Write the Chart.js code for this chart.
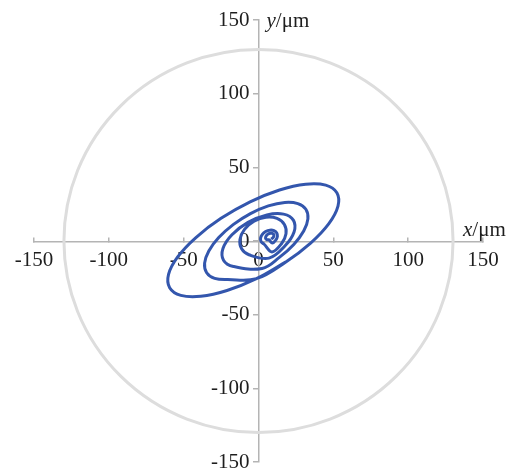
<!DOCTYPE html>
<html>
<head>
<meta charset="utf-8">
<script src="https://cdn.jsdelivr.net/npm/chart.js@4/dist/chart.umd.min.js"></script>
<style>
  html, body { margin: 0; padding: 0; background: #ffffff; }
  #wrap { width: 508px; height: 476px; }
</style>
</head>
<body>
<div id="wrap"><canvas id="orbit" width="508" height="476"></canvas></div>
<script>
// Shaft-centre orbit, displacement in micrometres (inner turns first, outer turn last)
const orbitX = [
  8.5, 9.67, 10.25, 10.1, 9.25, 7.93, 6.5, 5.33, 4.75, 4.9, 5.75, 7.07,
  9.25, 11.55, 12.63, 12.2, 10.37, 7.65, 4.75, 2.45, 1.37, 1.8, 3.63,
  9.0, 15.35, 18.38, 17.29, 12.38, 4.95, -3.0, -9.35, -12.38, -11.29, -6.38,
  7.0, 17.75, 23.75, 23.38, 16.75, 5.63, -7.0, -17.75, -23.75, -23.38, -16.75,
  2.39, 13.93, 23.57, 30.2, 33.01, 31.64, 26.29, 17.58, 6.57, -5.39, -16.93, -26.57, -33.2, -36.01, -34.64, -29.29, -20.58,
  -1.4, 18.04, 34.82, 47.01, 53.11, 52.36, 44.91, 31.57, 14.04, -5.6, -25.04, -41.82, -54.01, -60.11, -59.36, -51.91, -38.57, -21.04, -1.4, 18.04
];
const orbitY = [
  1.27, 2.25, 3.43, 4.5, 5.17, 5.25, 4.73, 3.75, 2.57, 1.5, 0.83, 0.75,
  -1.4, 0.62, 3.15, 5.5, 7.05, 7.38, 6.4, 4.38, 1.85, -0.5, -2.05,
  -7.39, -1.87, 4.94, 11.25, 15.34, 16.13, 13.39, 7.87, 1.06, -5.25, -9.34,
  -11.62, -3.25, 6.13, 14.0, 18.25, 17.75, 12.62, 4.25, -5.13, -13.0, -17.25,
  -18.62, -11.12, -2.31, 6.78, 15.08, 21.53, 25.4, 26.2, 23.85, 18.62, 11.12, 2.31, -6.78, -15.08, -21.53, -25.4, -26.2,
  -25.58, -14.36, -1.37, 11.84, 23.71, 32.75, 37.93, 38.56, 34.63, 26.58, 15.36, 2.37, -10.84, -22.71, -31.75, -36.93, -37.56, -33.63, -25.58, -14.36
];

// Axis range and tick spacing (same for both axes)
const axisMin = -150;
const axisMax = 150;
const tickStep = 50;

// Clearance circle radius, micrometres
const clearanceRadius = 130;

// Axis titles: variable (italic) and unit
const xTitle = ['x', '/\u03bcm'];
const yTitle = ['y', '/\u03bcm'];

const orbitPoints = orbitX.map((v, i) => ({ x: v, y: orbitY[i] }));

const serif = "'Liberation Serif', 'Times New Roman', serif";
const tickFont = { family: serif, size: 21, lineHeight: 1 };
const axisGray = '#b4b4b4';
const textColor = '#1e1e1e';

// Light grey clearance circle around the origin
const clearanceCircle = {
  id: 'clearanceCircle',
  beforeDatasetsDraw(chart) {
    const { ctx, scales: { x, y } } = chart;
    const cx = x.getPixelForValue(0);
    const cy = y.getPixelForValue(0);
    const rx = x.getPixelForValue(clearanceRadius) - cx;
    const ry = cy - y.getPixelForValue(clearanceRadius);
    ctx.save();
    ctx.beginPath();
    ctx.ellipse(cx, cy, rx, ry, 0, 0, Math.PI * 2);
    ctx.strokeStyle = '#dddddd';
    ctx.lineWidth = 3;
    ctx.stroke();
    ctx.restore();
  }
};

// Axis titles with an italic variable name followed by the unit
function drawTitle(ctx, parts, px, py) {
  ctx.textAlign = 'left';
  ctx.textBaseline = 'middle';
  ctx.font = 'italic 21px ' + serif;
  ctx.fillText(parts[0], px, py);
  const w = ctx.measureText(parts[0]).width;
  ctx.font = '21px ' + serif;
  ctx.fillText(parts[1], px + w, py);
}

const axisTitles = {
  id: 'axisTitles',
  afterDraw(chart) {
    const { ctx, scales: { x, y } } = chart;
    ctx.save();
    ctx.fillStyle = textColor;
    drawTitle(ctx, yTitle, x.getPixelForValue(0) + 8, y.getPixelForValue(axisMax) + 1);
    drawTitle(ctx, xTitle, x.getPixelForValue(axisMax) - 20, y.getPixelForValue(0) - 11);
    ctx.restore();
  }
};

new Chart(document.getElementById('orbit'), {
  type: 'scatter',
  data: {
    datasets: [{
      data: orbitPoints,
      showLine: true,
      borderColor: '#3356ad',
      borderWidth: 3,
      pointRadius: 0,
      pointHoverRadius: 0,
      tension: 0.38,
      fill: false
    }]
  },
  options: {
    responsive: false,
    animation: false,
    layout: { padding: { left: 34, right: 25, top: 20, bottom: 14 } },
    plugins: { legend: { display: false }, tooltip: { enabled: false } },
    scales: {
      x: {
        type: 'linear',
        position: 'center',
        min: axisMin,
        max: axisMax,
        ticks: { stepSize: tickStep, autoSkip: false, maxRotation: 0, font: tickFont, color: textColor, padding: 14 },
        grid: { drawOnChartArea: false, drawTicks: true, tickLength: -5, color: axisGray, lineWidth: 1.5 },
        border: { color: axisGray, width: 1.5 },
        afterFit(s) { s.paddingLeft = 0; s.paddingRight = 0; }
      },
      y: {
        type: 'linear',
        position: 'center',
        min: axisMin,
        max: axisMax,
        ticks: { stepSize: tickStep, autoSkip: false, font: tickFont, color: textColor, padding: 4 },
        grid: { drawOnChartArea: false, drawTicks: true, tickLength: 5, color: axisGray, lineWidth: 1.5 },
        border: { color: axisGray, width: 1.5 },
        afterFit(s) { s.paddingTop = 0; s.paddingBottom = 0; }
      }
    }
  },
  plugins: [clearanceCircle, axisTitles]
});
</script>
</body>
</html>
